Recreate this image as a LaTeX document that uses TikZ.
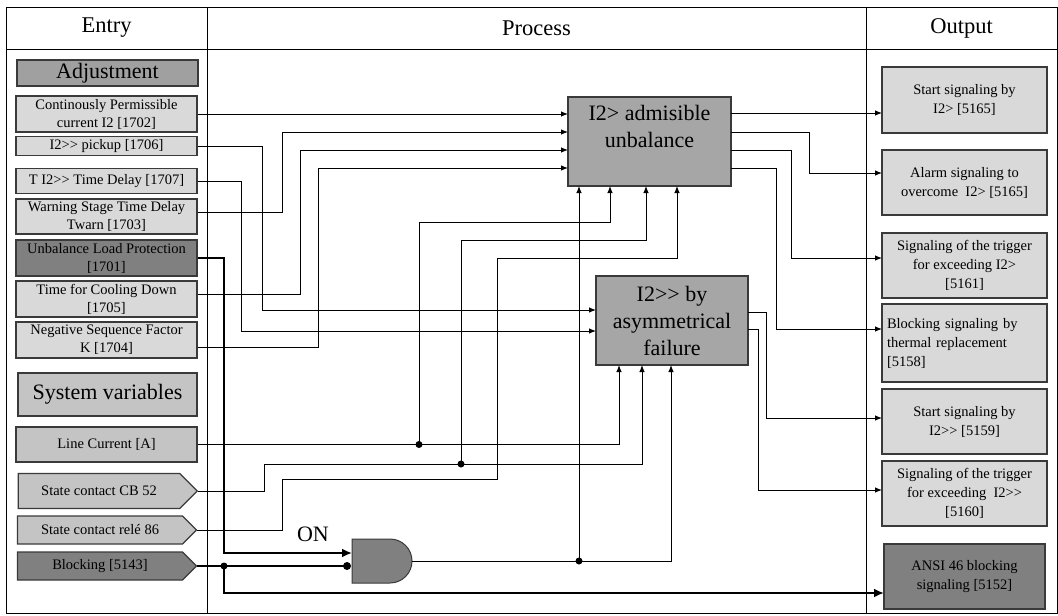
\documentclass[tikz,border=0pt]{standalone}
\usepackage{fontspec}
\setmainfont{Liberation Serif}
\usetikzlibrary{arrows.meta}
\usetikzlibrary{shapes.symbols}

\definecolor{boxline}{HTML}{3A3A3A}
\definecolor{lightbox}{HTML}{D9D9D9}
\definecolor{varfill}{HTML}{C4C4C4}
\definecolor{darkbox}{HTML}{808080}
\definecolor{procfill}{HTML}{A6A6A6}
\definecolor{adjfill}{HTML}{A0A0A0}

\newcommand\smallfs{\fontsize{14.5}{18}\selectfont}
\newcommand\outfs{\fontsize{14.5}{19}\selectfont}
\newcommand\bigfs{\fontsize{22}{27}\selectfont}
% keeps ">>" from turning into a guillemet
\newcommand\Itwogg{I2>\kern0pt>}

\tikzset{
  frame/.style={line width=1pt},
  head/.style={font=\fontsize{22.5}{27}\selectfont},
  setbox/.style={draw=boxline, line width=1.2pt, fill=lightbox, minimum width=181pt,
    inner sep=0pt, align=center, font=\smallfs},
  varbox/.style={setbox, fill=varfill},
  contbox/.style={varbox, signal, signal to=east, signal pointer angle=90, minimum width=179pt},
  titlebox/.style={draw=boxline, line width=1.2pt, inner sep=0pt, font=\bigfs},
  procbox/.style={draw=boxline, line width=1.2pt, fill=procfill, inner sep=0pt,
    align=center, font=\bigfs},
  outbox/.style={draw=boxline, line width=1.2pt, fill=lightbox, minimum width=165pt,
    inner sep=0pt, align=center, font=\outfs},
  sig/.style={line width=0.9pt, -{Latex[length=7pt,width=5.5pt]}},
  thk/.style={line width=2.6pt, -{Latex[length=10pt,width=9pt]}},
  thkline/.style={line width=2.6pt},
}

\begin{document}
\begin{tikzpicture}[x=1pt,y=-1pt]
\useasboundingbox (0,0) rectangle (1058,616);

% table frame
\draw[frame] (6,7) rectangle (1057,613);
\draw[frame] (6,49) -- (1057,49);
\draw[frame] (207,7) -- (207,613);
\draw[frame] (866,7) -- (866,613);

\node[head] (hentry) at (106.5,28) {Entry};
\node[head] (hproc) at (536.5,28) {Process};
\node[head] (hout) at (961.5,28) {Output};

% entries
\node[titlebox, fill=adjfill, minimum width=181pt, minimum height=26pt] (adj) at (107.5,73) {Adjustment};
\node[setbox, minimum height=36pt] (cont) at (106.5,114) {Continously Permissible\\current I2 [1702]};
\node[setbox, minimum height=19pt] (pick) at (106.5,146) {\Itwogg{} pickup [1706]};
\node[setbox, minimum height=25pt] (tdel) at (106.5,181) {T \Itwogg{} Time Delay [1707]};
\node[setbox, minimum height=35pt] (warn) at (106.5,216.5) {Warning Stage Time Delay\\Twarn [1703]};
\node[setbox, fill=darkbox, minimum height=36pt] (unb) at (106.5,258) {Unbalance Load Protection\\{[}1701]};
\node[setbox, minimum height=36pt] (cool) at (106.5,299) {Time for Cooling Down\\{[}1705]};
\node[setbox, minimum height=36pt] (neg) at (106.5,340) {Negative Sequence Factor\\K [1704]};
\node[titlebox, fill=varfill, minimum width=179pt, minimum height=43pt] (sysv) at (107.5,394.5) {System variables};
\node[varbox, minimum height=35pt] (line) at (106.5,444.5) {Line Current [A]};
\node[contbox, minimum height=35pt] (cb52) at (99,491) {State contact CB 52};
\node[contbox, minimum height=28pt] (rele) at (100,530) {State contact relé 86};
\node[contbox, fill=darkbox, minimum height=28pt] (blk) at (100,566) {Blocking [5143]};

% process blocks
\node[procbox, minimum width=163pt, minimum height=89pt,
  label={[anchor=north, yshift=-9pt, inner sep=0pt, align=center, font=\bigfs]north:I2> admisible\\unbalance}] (adm) at (649.5,141.5) {};
\node[procbox, minimum width=152pt, minimum height=89pt] (asy) at (672,320.5) {\Itwogg{} by\\asymmetrical\\failure};
\draw[line width=1pt, draw=boxline, fill=darkbox] (352,539) -- (390,539) arc[start angle=-90, end angle=90, radius=22] -- (352,583) -- cycle;

% outputs
\node[outbox, minimum height=66pt] (o1) at (964.5,100) {Start signaling by\\I2> [5165]};
\node[outbox, minimum height=65pt] (o2) at (964.5,182.5) {Alarm signaling to\\overcome\ \ I2> [5165]};
\node[outbox, minimum height=65pt] (o3) at (964.5,265.5) {Signaling of the trigger\\for exceeding I2>\\{[}5161]};
\node[outbox, minimum height=78pt, text width=155pt, align=left] (o4) at (964.5,343) {Blocking signaling by\\thermal replacement\\{[}5158]};
\node[outbox, minimum height=65pt] (o5) at (964.5,421.5) {Start signaling by\\\Itwogg{} [5159]};
\node[outbox, minimum height=65pt] (o6) at (964.5,493.5) {Signaling of the trigger\\for exceeding\ \ \Itwogg\\{[}5160]};
\node[outbox, fill=darkbox, minimum width=161pt, minimum height=65pt] (o7) at (964.5,576.5) {ANSI 46 blocking\\signaling [5152]};

% ports
\foreach \y [count=\i] in {114,132,150,168} \coordinate (adm-w\i) at (568,\y);
\foreach \x [count=\i] in {579,610,646,677} \coordinate (adm-s\i) at (\x,186);
\foreach \y [count=\i] in {113,132,150,168} \coordinate (adm-e\i) at (731,\y);
\coordinate (asy-w1) at (596,310);
\coordinate (asy-w2) at (596,331);
\foreach \x [count=\i] in {619,642,671} \coordinate (asy-s\i) at (\x,365);
\coordinate (asy-e1) at (748,312);
\coordinate (asy-e2) at (748,329);
\foreach \y [count=\i] in {113,173,258,329,418,490} \coordinate (o\i-in) at (882,\y);
\coordinate (o7-in) at (884,593);
\coordinate (gate-in1) at (352,553);
\coordinate (gate-in2) at (347,566);
\coordinate (gate-out) at (412,561);
\coordinate (j1) at (419,444.5);
\coordinate (j2) at (461,464);
\coordinate (j3) at (224,566);
\coordinate (j4) at (579,561);

% adjustments
\draw[sig] (cont.east) -- (adm-w1);
\draw[sig] ([yshift=4.5pt]warn.east) -| (282,132) -- (adm-w2);
\draw[sig] ([yshift=5pt]cool.east) -| (300,150) -- (adm-w3);
\draw[sig] ([yshift=-7pt]neg.east) -| (318,168) -- (adm-w4);
\draw[sig] (pick.east) -| (262,310) -- (asy-w1);
\draw[sig] (tdel.east) -| (241,331) -- (asy-w2);

% enable and blocking
\draw[thk] (unb.east) -| (224,553) -- (gate-in1);
\node[font=\bigfs] (on) at (313,534) {ON};
\draw[thkline] (blk.east) -- (gate-in2);
\draw[thk] (j3) |- (o7-in);

% system variables
\draw[sig] (line.east) -| (asy-s1);
\draw[sig] (j1) -- (419,222) -| (adm-s2);
\draw[sig] (cb52.east) -| (264,464) -| (asy-s2);
\draw[sig] (j2) -- (461,240) -| (adm-s3);
\draw[sig] (rele.east) -| (282,479) -| (497,258) -| (adm-s4);
\draw[sig] (gate-out) -| (asy-s3);
\draw[sig] (j4) -- (adm-s1);

% signals out
\draw[sig] (adm-e1) -- (o1-in);
\draw[sig] (adm-e2) -| (809,173) -- (o2-in);
\draw[sig] (adm-e3) -| (791,258) -- (o3-in);
\draw[sig] (adm-e4) -| (776,329) -- (o4-in);
\draw[sig] (asy-e1) -| (766,418) -- (o5-in);
\draw[sig] (asy-e2) -| (758,490) -- (o6-in);

\foreach \p in {j1,j2,j3,j4} \fill (\p) circle[radius=3.5pt];
\fill (gate-in2) circle[radius=4pt];

\end{tikzpicture}
\end{document}
